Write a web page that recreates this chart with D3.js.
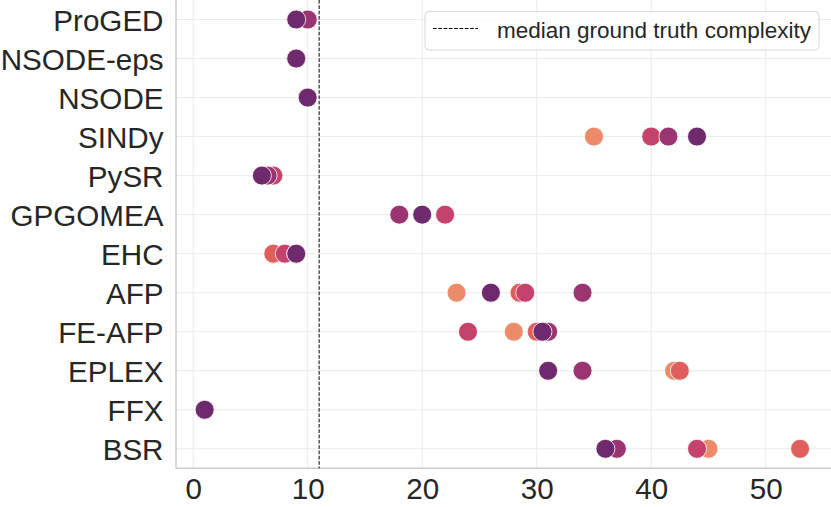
<!DOCTYPE html>
<html>
<head>
<meta charset="utf-8">
<script src="https://cdn.jsdelivr.net/npm/d3@7"></script>
<style>
  html, body { margin: 0; padding: 0; background: #fff; }
  svg { display: block; }
</style>
</head>
<body>
<div id="chart"></div>
<script>
// ---- data ----
const methods = ["ProGED", "NSODE-eps", "NSODE", "SINDy", "PySR", "GPGOMEA", "EHC", "AFP", "FE-AFP", "EPLEX", "FFX", "BSR"];
const levels = ["level 0", "level 1", "level 2", "level 3", "level 4"];
const level0 = [10, 9, 10, 35, 7, 22, 7, 23, 28, 42, 1, 45];
const level1 = [10, 9, 10, 40, 7, 22, 7, 28.5, 30, 42.5, 1, 53];
const level2 = [10, 9, 10, 40, 7, 22, 8, 29, 24, 34, 1, 44];
const level3 = [10, 9, 10, 41.5, 6.5, 18, 9, 34, 31, 34, 1, 37];
const level4 = [9, 9, 10, 44, 6, 20, 9, 26, 30.5, 31, 1, 36];
const seriesValues = [level0, level1, level2, level3, level4];
const medianComplexity = 11;
const xTicks = [0, 10, 20, 30, 40, 50];
const legendLabel = "median ground truth complexity";
const palette = ["#eb8b6a", "#e05f5d", "#c5426a", "#9b3571", "#6f2a6d"];

// ---- layout ----
const W = 831, H = 507;
const pLeft = 176, pRight = 831, pTop = 0, pBottom = 468.3;
const font = "'Liberation Sans', Arial, Helvetica, sans-serif";

const svg = d3.select("#chart").append("svg").attr("width", W).attr("height", H);

const x = d3.scaleLinear().domain([-1.5, 55.7]).range([pLeft, pRight]);
const y = d3.scalePoint().domain(methods).range([pTop, pBottom]).padding(0.5);

// grid
const g = svg.append("g");
g.selectAll(".vgrid").data(xTicks).join("line")
  .attr("x1", d => x(d)).attr("x2", d => x(d))
  .attr("y1", pTop).attr("y2", pBottom)
  .attr("stroke", "#ebebeb").attr("stroke-width", 1);
g.selectAll(".hgrid").data(methods).join("line")
  .attr("x1", pLeft).attr("x2", pRight)
  .attr("y1", d => y(d)).attr("y2", d => y(d))
  .attr("stroke", "#ebebeb").attr("stroke-width", 1);

// axes
const xAxis = d3.axisBottom(x).tickValues(xTicks).tickSize(0).tickPadding(10);
const xg = svg.append("g").attr("transform", `translate(0,${pBottom})`).call(xAxis);
xg.select(".domain").remove();
xg.selectAll("text").attr("font-family", font).attr("font-size", 29.6).attr("fill", "#262626")
  .attr("dy", "0.71em").attr("y", 10);

const yAxis = d3.axisLeft(y).tickSize(0).tickPadding(12.5);
const yg = svg.append("g").attr("transform", `translate(${pLeft},0)`).call(yAxis);
yg.select(".domain").remove();
yg.selectAll("text").attr("font-family", font).attr("font-size", 29.6).attr("fill", "#262626")
  .attr("dy", "0.36em");

// spines
svg.append("line").attr("x1", pLeft).attr("x2", pLeft).attr("y1", pTop).attr("y2", pBottom + 0.5)
  .attr("stroke", "#cccccc").attr("stroke-width", 1.5);
svg.append("line").attr("x1", pLeft).attr("x2", pRight).attr("y1", pBottom).attr("y2", pBottom)
  .attr("stroke", "#cccccc").attr("stroke-width", 1.5);

// points
const pts = [];
seriesValues.forEach((vals, si) => {
  vals.forEach((v, mi) => pts.push({ method: methods[mi], value: v, level: si }));
});
svg.append("g").selectAll("circle").data(pts).join("circle")
  .attr("cx", d => x(d.value))
  .attr("cy", d => y(d.method))
  .attr("r", 9.5)
  .attr("fill", d => palette[d.level])
  .attr("stroke", "#ffffff")
  .attr("stroke-width", 0.8);

// median line
svg.append("line")
  .attr("x1", x(medianComplexity)).attr("x2", x(medianComplexity))
  .attr("y1", pTop).attr("y2", pBottom)
  .attr("stroke", "#000").attr("stroke-width", 1)
  .attr("stroke-dasharray", "3.7,1.6");

// legend
const lg = svg.append("g");
lg.append("rect").attr("x", 425).attr("y", 11.5).attr("width", 394).attr("height", 38.5)
  .attr("rx", 4).attr("fill", "rgba(255,255,255,0.8)").attr("stroke", "#d6d6d6").attr("stroke-width", 1);
lg.append("line").attr("x1", 433).attr("x2", 478).attr("y1", 28.5).attr("y2", 28.5)
  .attr("stroke", "#000").attr("stroke-width", 1).attr("stroke-dasharray", "3.7,1.6");
lg.append("text").attr("x", 497).attr("y", 37.5).text(legendLabel)
  .attr("font-family", font).attr("font-size", 22.5).attr("fill", "#262626");
</script>
</body>
</html>
